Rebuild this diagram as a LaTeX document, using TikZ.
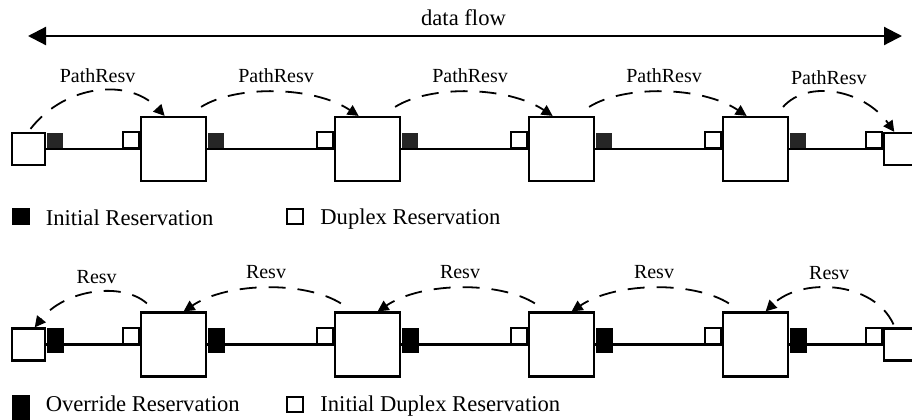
\documentclass[tikz,border=0pt]{standalone}
\usepackage{fontspec}
\setmainfont{Liberation Serif}
\usetikzlibrary{positioning, arrows.meta}
\tikzstyle{router} = [draw, line width=1.1pt, fill=white, minimum width=32.5pt, minimum height=32pt, inner sep=0pt]
\tikzstyle{host} = [draw, line width=1.1pt, fill=white, minimum width=16.5pt, minimum height=16pt, inner sep=0pt]
\tikzstyle{dupport} = [draw, line width=0.8pt, fill=white, minimum size=8pt, inner sep=0pt]
\tikzstyle{initport} = [fill=black!85, minimum size=8pt, inner sep=0pt]
\tikzstyle{overport} = [fill=black, minimum width=8.5pt, minimum height=12.5pt, inner sep=0pt]
\tikzstyle{initkey} = [fill=black, minimum width=9pt, minimum height=8.5pt, inner sep=0pt]
\tikzstyle{overkey} = [fill=black, minimum width=9pt, minimum height=13pt, inner sep=0pt]
\tikzstyle{dupkey} = [draw, line width=1pt, minimum width=8pt, minimum height=7.5pt, inner sep=0pt]
\tikzstyle{link} = [line width=1.1pt]
\tikzstyle{resv} = [line width=0.9pt, dash pattern=on 8.5pt off 6pt, -{Triangle[length=5.5pt,width=5.5pt]}]
\tikzstyle{flow} = [line width=1.1pt, {Triangle[length=9pt,width=9pt]}-{Triangle[length=9pt,width=9pt]}]
\tikzstyle{lbl} = [font=\fontsize{10}{12}\selectfont, inner sep=0pt]
\tikzstyle{legtext} = [font=\fontsize{11.3}{13}\selectfont, inner sep=0pt, text height=10.5pt, text depth=2pt]

\begin{document}
\begin{tikzpicture}[x=0.5pt, y=-0.5pt]
    \useasboundingbox (0,0) rectangle (912,419);

    % data flow
    \coordinate (fl) at (28,36);
    \coordinate (fr) at (902,36);
    \draw[flow] (fl) -- (fr);
    \node[legtext] (dflow) at (463.5,17) {data flow};

    % top row: PathResv
    \node[host] (th0) at (28.5,149) {};
    \node[host] (th5) at (900.5,149) {};
    \foreach \i in {1,...,4}
        \node[router] (tr\i) at ({173.5+194*(\i-1)},149) {};
    \node[initport, anchor=south west] (tp0) at (th0.east) {};
    \foreach \i in {1,...,4} {
        \node[dupport, anchor=south east] (td\i) at (tr\i.west) {};
        \node[initport, anchor=south west] (tp\i) at (tr\i.east) {};
    }
    \node[dupport, anchor=south east] (td5) at (th5.west) {};

    \draw[link] (th0.east) -- (tr1.west);
    \foreach \i [evaluate=\i as \j using int(\i+1)] in {1,2,3}
        \draw[link] (tr\i.east) -- (tr\j.west);
    \draw[link] (tr4.east) -- (th5.west);

    \draw[resv] ([shift={(2,-3)}]th0.north) .. controls +(35,-45) and +(-35,-38) .. (tr1.105)
        node[lbl, midway, above=4pt] {PathResv};
    \foreach \i [evaluate=\i as \j using int(\i+1)] in {1,2,3}
        \draw[resv] ([shift={(-6,-9)}]tr\i.north east) .. controls +(35,-22) and +(-45,-30) .. (tr\j.105)
            node[lbl, midway, above=4pt] {PathResv};
    \draw[resv] ([shift={(-6,-9)}]tr4.north east) .. controls +(25,-28) and +(-30,-42) .. (th5.110)
        node[lbl, midway, above=4pt, xshift=-4pt] {PathResv};

    % legend 1
    \node[initkey] (ikey) at (21,216.5) {};
    \node[legtext, right=7.5pt of ikey] (itext) {Initial Reservation};
    \node[dupkey] (dkey) at (295,216) {};
    \node[legtext, right=8pt of dkey] (dtext) {Duplex Reservation};

    % bottom row: Resv
    \node[host] (bh0) at (28.5,344.5) {};
    \node[host] (bh5) at (900.5,344.5) {};
    \foreach \i in {1,...,4}
        \node[router] (br\i) at ({173.5+194*(\i-1)},344.5) {};
    \node[overport, anchor=west, yshift=2pt] (bp0) at (bh0.east) {};
    \foreach \i in {1,...,4} {
        \node[dupport, anchor=south east] (bd\i) at (br\i.west) {};
        \node[overport, anchor=west, yshift=2pt] (bp\i) at (br\i.east) {};
    }
    \node[dupport, anchor=south east] (bd5) at (bh5.west) {};

    \draw[link] (bh0.east) -- (br1.west);
    \foreach \i [evaluate=\i as \j using int(\i+1)] in {1,2,3}
        \draw[link] (br\i.east) -- (br\j.west);
    \draw[link] (br4.east) -- (bh5.west);

    \draw[resv] ([shift={(7,-8)}]br1.north west) .. controls +(-25,-22) and +(30,-38) .. (bh0.70)
        node[lbl, midway, above=4pt, xshift=2pt] {Resv};
    \foreach \i [evaluate=\i as \j using int(\i+1)] in {1,2,3}
        \draw[resv] ([shift={(7,-8)}]br\j.north west) .. controls +(-35,-22) and +(45,-30) .. (br\i.73)
            node[lbl, midway, above=4pt] {Resv};
    \draw[resv] ([shift={(-7,-3)}]bh5.north) .. controls +(-20,-44) and +(35,-34) .. (br4.73)
        node[lbl, midway, above=4pt, xshift=-3pt] {Resv};

    % legend 2
    \node[overkey] (okey) at (21,408) {};
    \node[legtext, right=7.5pt of okey, yshift=2.5pt] (otext) {Override Reservation};
    \node[dupkey] (dkey2) at (295,404.5) {};
    \node[legtext, right=8pt of dkey2, yshift=0.75pt] (dtext2) {Initial Duplex Reservation};
\end{tikzpicture}
\end{document}
